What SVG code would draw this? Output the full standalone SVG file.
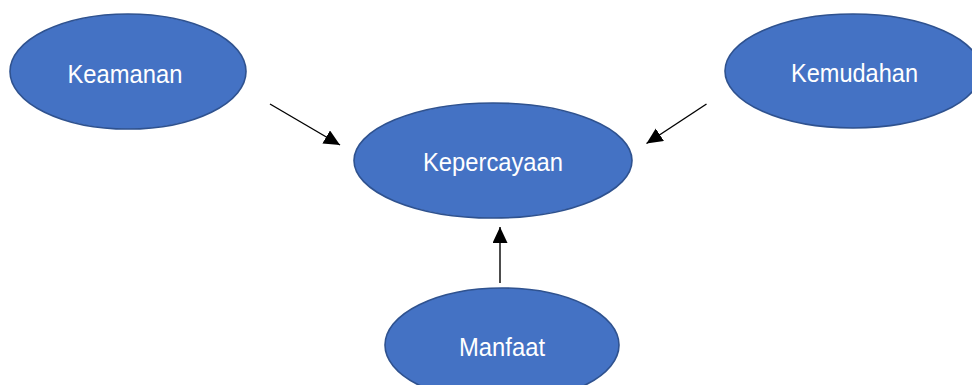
<svg xmlns="http://www.w3.org/2000/svg" width="972" height="385" viewBox="0 0 972 385">
<style>
.node ellipse{fill:#4472C4;stroke:#2F528F;stroke-width:1.6}
.node text{fill:#FFFFFF;font-family:"Liberation Sans",Arial,sans-serif;font-size:26px;text-anchor:middle}
.conn line{stroke:#000000;stroke-width:1.4}
</style>
<defs>
<marker id="arrow" markerUnits="userSpaceOnUse" markerWidth="18" markerHeight="16" refX="16" refY="7.5" orient="auto">
<path d="M0,0 L16,7.5 L0,15 Z" fill="#000000"/>
</marker>
</defs>
<rect width="972" height="385" fill="#FFFFFF"/>
<g id="connectors" class="conn">
<line x1="270" y1="104" x2="340" y2="145" marker-end="url(#arrow)"/>
<line x1="706.5" y1="104" x2="646.5" y2="143.5" marker-end="url(#arrow)"/>
<line x1="500" y1="283" x2="500" y2="227" marker-end="url(#arrow)"/>
</g>
<g id="keamanan" class="node">
<ellipse cx="128" cy="71.5" rx="118" ry="57.5"/>
<text x="125" y="83" textLength="115" lengthAdjust="spacingAndGlyphs">Keamanan</text>
</g>
<g id="kemudahan" class="node">
<ellipse cx="853" cy="71" rx="128" ry="57"/>
<text x="854.5" y="82" textLength="127" lengthAdjust="spacingAndGlyphs">Kemudahan</text>
</g>
<g id="kepercayaan" class="node">
<ellipse cx="493" cy="160.5" rx="139" ry="57.5"/>
<text x="493" y="171" textLength="140" lengthAdjust="spacingAndGlyphs">Kepercayaan</text>
</g>
<g id="manfaat" class="node">
<ellipse cx="502" cy="345" rx="117" ry="57"/>
<text x="502" y="356" textLength="86" lengthAdjust="spacingAndGlyphs">Manfaat</text>
</g>
</svg>
